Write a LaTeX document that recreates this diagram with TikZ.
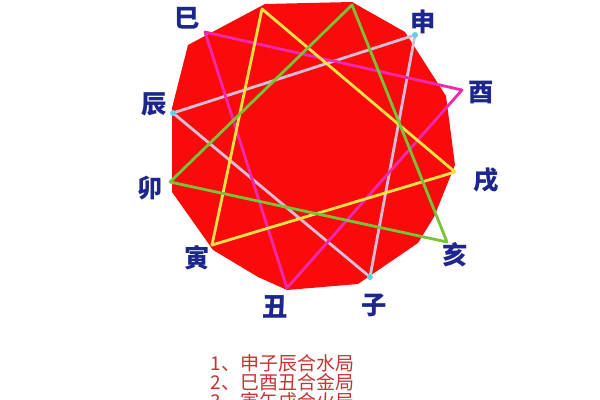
\documentclass[tikz,border=0pt]{standalone}
\usepackage{fontspec}
\newfontfamily\cjk{Noto Sans CJK SC}
\definecolor{labelblue}{RGB}{28,38,140}
\definecolor{textred}{RGB}{200,50,50}
\definecolor{polyred}{RGB}{250,10,10}
\definecolor{palepink}{RGB}{215,190,215}
\definecolor{linkmag}{RGB}{240,40,170}
\definecolor{linkyel}{RGB}{250,225,70}
\definecolor{linkgrn}{RGB}{120,195,55}
\definecolor{tipcyan}{RGB}{90,210,235}

\begin{document}
\begin{tikzpicture}[x=0.025cm,y=-0.025cm,
    every node/.style={font=\cjk\bfseries\fontsize{18}{18}\selectfont, text=labelblue},
    link/.style={line width=2pt, line join=round}]
    \useasboundingbox (0,0) rectangle (600,400);

    \fill[polyred] (265,4) -- (352,2) -- (405,32) -- (446,96) -- (455,165) -- (434,217)
      -- (418,243) -- (358,284) -- (287,290) -- (258,277) -- (213,250) -- (172,192)
      -- (172,108) -- (188,45) -- cycle;

    \coordinate (si)   at (205,32);
    \coordinate (wu)   at (262,9);
    \coordinate (wei)  at (352,5);
    \coordinate (shen) at (415,35);
    \coordinate (you)  at (462,90);
    \coordinate (xu)   at (455,172);
    \coordinate (hai)  at (447,242);
    \coordinate (zi)   at (370,277);
    \coordinate (chou) at (287,288);
    \coordinate (yin)  at (212,245);
    \coordinate (mao)  at (170,182);
    \coordinate (chen) at (173,113);

    \node (siL)   at (187,18)  {巳};
    \node (shenL) at (423,22)  {申};
    \node (youL)  at (481,93)  {酉};
    \node (xuL)   at (486,180) {戌};
    \node (haiL)  at (455,255) {亥};
    \node (ziL)   at (374,305) {子};
    \node (chouL) at (275,307) {丑};
    \node (yinL)  at (197,258) {寅};
    \node (maoL)  at (150,188) {卯};
    \node (chenL) at (154,104) {辰};

    \foreach \a/\b/\c/\col in
      {shen/zi/chen/palepink,
       si/you/chou/linkmag,
       yin/wu/xu/linkyel,
       hai/mao/wei/linkgrn}
    \draw[link, \col] (\a) -- (\b) -- (\c) -- cycle;

    \foreach \p in {shen,zi,chen}
    \fill[tipcyan] (\p) circle (3);

    \begin{scope}[every node/.style={anchor=west, text=textred,
        font=\cjk\fontsize{13.5}{13.5}\selectfont}]
    \node (rule1) at (206,363) {1、申子辰合水局};
    \node (rule2) at (206,382) {2、巳酉丑合金局};
    \node (rule3) at (206,401) {3、寅午戌合火局};
    \end{scope}
\end{tikzpicture}
\end{document}
